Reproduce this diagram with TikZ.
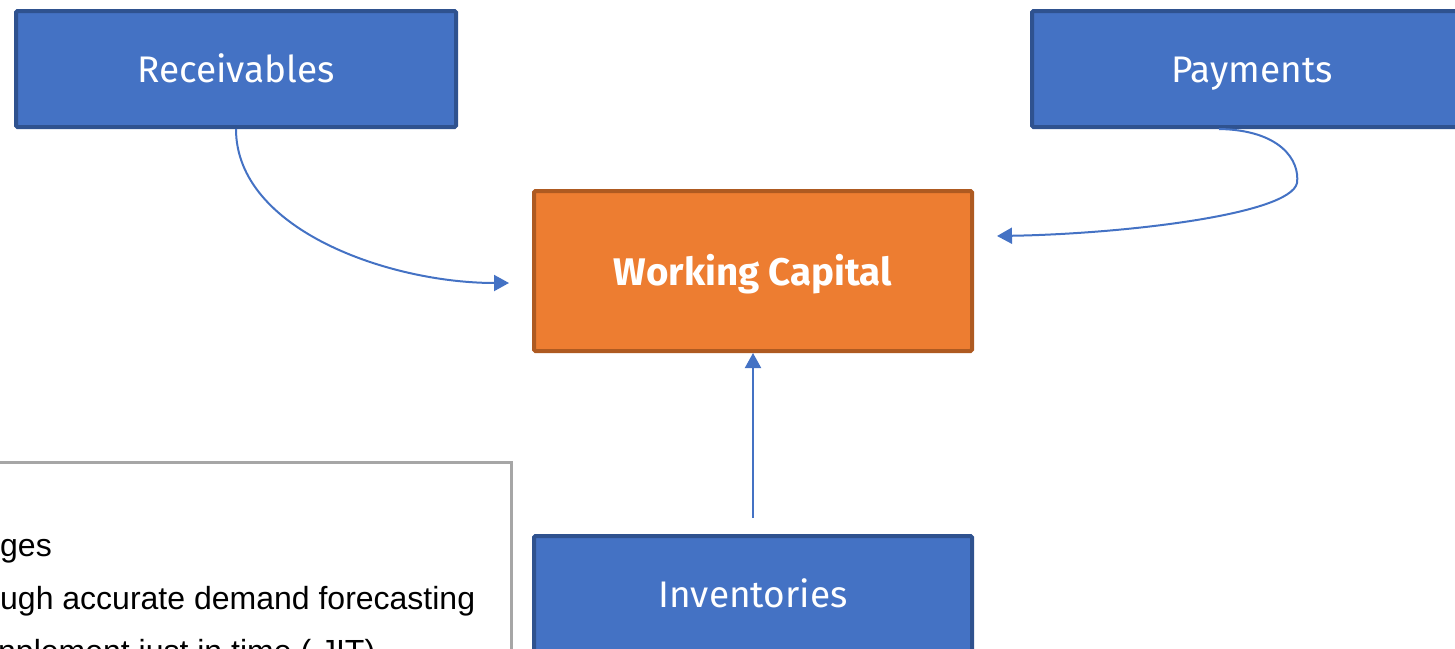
\documentclass[tikz,border=0pt]{standalone}
\usepackage{fontspec}
\usetikzlibrary{arrows.meta}
\newfontfamily\labelfont{Fira Sans}
\newfontfamily\bodyfont{Liberation Sans}
\definecolor{boxblue}{HTML}{4472C4}
\definecolor{boxblueline}{HTML}{2F528F}
\definecolor{boxorange}{HTML}{ED7D31}
\definecolor{boxorangeline}{HTML}{AE5A21}
\definecolor{panelgray}{HTML}{A6A6A6}
\tikzset{
  bluebox/.style={draw=boxblueline, fill=boxblue, line width=4pt, rounded corners=1.5pt,
    minimum width=440pt, minimum height=116pt, inner sep=0pt, text=white,
    text height=30pt, text depth=4pt,
    font=\labelfont\fontsize{37}{44}\selectfont},
  orangebox/.style={draw=boxorangeline, fill=boxorange, line width=4pt, rounded corners=1.5pt,
    minimum width=438pt, minimum height=160pt, inner sep=0pt, text=white,
    text height=31pt, text depth=3pt,
    font=\labelfont\bfseries\fontsize{38.5}{44}\selectfont},
  link/.style={draw=boxblue, line width=2pt, -{Triangle[length=15pt,width=16pt]}},
  bodytext/.style={anchor=base west, inner sep=0pt, text=black,
    font=\bodyfont\fontsize{32}{38}\selectfont},
}
\begin{document}
\begin{tikzpicture}[x=1pt,y=-1pt]
\useasboundingbox (0,0) rectangle (1455,648);
% panel
\draw[panelgray, line width=3pt] (-20,700) -- (-20,462.5) -- (511.5,462.5) -- (511.5,700);
\node[bodytext] (l1) at (0,556) {ges};
\node[bodytext] (l2) at (0,609) {ugh accurate demand forecasting};
\node[bodytext] (l3) at (-2,662) {nplement just in time ( JIT)};
% boxes
\node[bluebox] (rec) at (236,69) {Receivables};
\node[bluebox] (pay) at (1252,69) {Payments};
\node[orangebox] (wc) at (753,271) {Working Capital};
\node[bluebox, minimum width=438pt] (inv) at (753,594) {Inventories};
% connector ends
\coordinate (recend) at ([xshift=-23pt,yshift=-12pt]wc.west);
\coordinate (paystart) at ([xshift=-33pt]pay.south);
\coordinate (payend) at ([xshift=23pt,yshift=35pt]wc.east);
\coordinate (invstart) at ([yshift=16pt]inv.north);
% connectors
\draw[link] (rec.south) .. controls (236,230) and (390,283) .. (recend);
\draw[link] (paystart) .. controls (1280,130) and (1300,160) .. (1297,183)
  .. controls (1290,215) and (1120,234) .. (payend);
\draw[link] (invstart) -- (wc.south);
\end{tikzpicture}
\end{document}
